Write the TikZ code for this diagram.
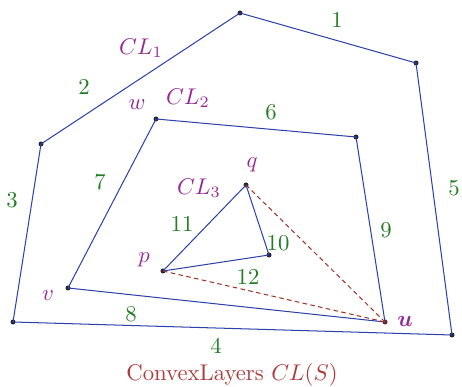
\documentclass[tikz,border=0pt]{standalone}
\usepackage{amsmath,bm}
\definecolor{layerblue}{RGB}{45,65,170}
\definecolor{numgreen}{RGB}{35,125,35}
\definecolor{labpurple}{RGB}{150,40,150}
\definecolor{capred}{RGB}{175,60,60}
\definecolor{dashred}{RGB}{160,50,40}
\tikzset{
  layer/.style={draw=layerblue, line width=0.45pt, line join=round},
  vtx/.style={circle, fill=black!85, inner sep=0pt, minimum size=2.2pt},
  num/.style={text=numgreen, inner sep=0pt},
  lab/.style={text=labpurple, inner sep=0pt},
  link/.style={draw=dashred, line width=0.45pt, dash pattern=on 2pt off 1.5pt},
}
\begin{document}
\begin{tikzpicture}[x=0.44pt, y=-0.44pt]
\useasboundingbox (0,0) rectangle (462,387);
% outer layer
\node[vtx] (a) at (240,13) {};
\node[vtx] (b) at (416,63) {};
\node[vtx] (c) at (452,335) {};
\node[vtx] (d) at (13,322) {};
\node[vtx] (e) at (41,144) {};
% second layer
\node[vtx] (w) at (156,119) {};
\node[vtx] (f) at (356,137) {};
\node[vtx, fill=dashred!70!black] (u) at (385,322) {};
\node[vtx] (v) at (68,288) {};
% third layer
\node[vtx] (q) at (246,185) {};
\node[vtx] (g) at (269,255) {};
\node[vtx] (p) at (163,271) {};
\draw[layer] (a.center) -- (b.center) -- (c.center) -- (d.center) -- (e.center) -- cycle;
\draw[layer] (w.center) -- (f.center) -- (u.center) -- (v.center) -- cycle;
\draw[layer] (q.center) -- (g.center) -- (p.center) -- cycle;
\draw[link] (p.center) -- (u.center);
\draw[link] (q.center) -- (u.center);
% edge numbers
\node[num] (n1) at (337,20) {1};
\node[num] (n2) at (84,87) {2};
\node[num] (n3) at (12,200) {3};
\node[num] (n4) at (216,346) {4};
\node[num] (n5) at (454,188) {5};
\node[num] (n6) at (271,112) {6};
\node[num] (n7) at (100,182) {7};
\node[num] (n8) at (131,314) {8};
\node[num] (n9) at (386,230) {9};
\node[num] (n10) at (278,243) {10};
\node[num] (n11) at (182,224) {11};
\node[num] (n12) at (248,277) {12};
% layer and point labels
\node[lab] (cl1) at (141,48) {$CL_1$};
\node[lab] (cl2) at (188,98) {$CL_2$};
\node[lab] (cl3) at (199,188) {$CL_3$};
\node[lab] (lw) at (137,105) {$w$};
\node[lab] (lq) at (252,165) {$q$};
\node[lab] (lp) at (144,260) {$p$};
\node[lab] (lv) at (48,296) {$v$};
\node[lab] (lu) at (405,321) {$\bm{u}$};
\node[text=capred, inner sep=0pt] (cap) at (232,375) {ConvexLayers $CL(S)$};
\end{tikzpicture}
\end{document}
